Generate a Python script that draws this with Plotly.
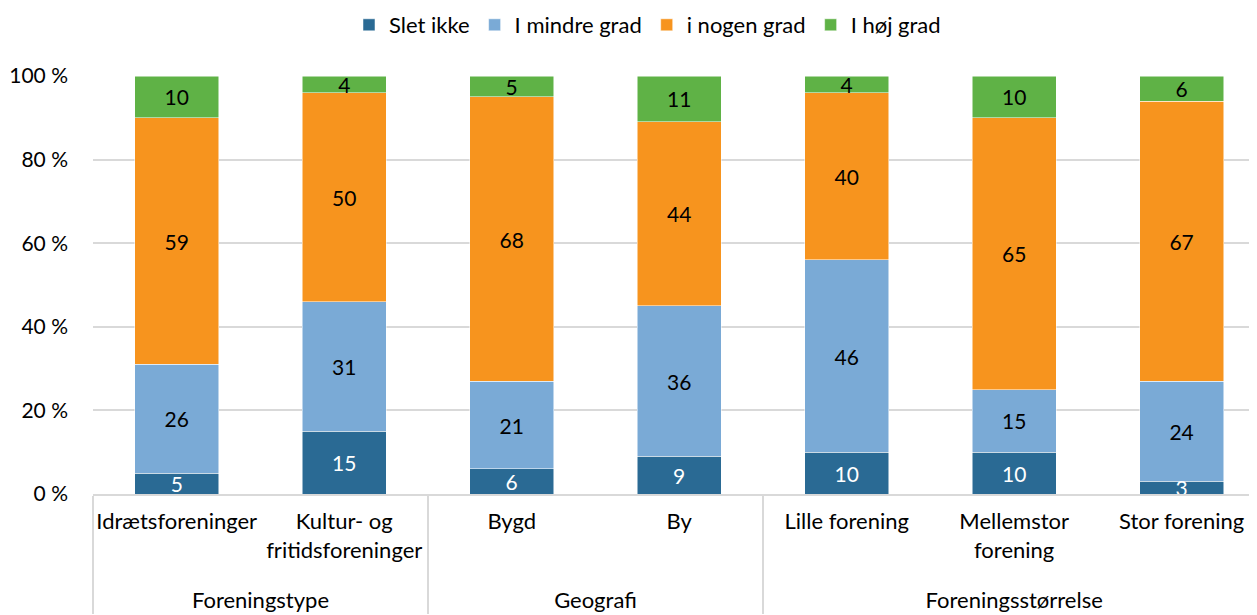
import plotly.graph_objects as go

groups = ["<br>Foreningstype", "<br>Foreningstype", "<br>Geografi", "<br>Geografi",
          "<br>Foreningsstørrelse", "<br>Foreningsstørrelse", "<br>Foreningsstørrelse"]
categories = ["Idrætsforeninger", "Kultur- og<br>fritidsforeninger", "Bygd", "By",
              "Lille forening", "Mellemstor<br>forening", "Stor forening"]

slet_ikke = [5, 15, 6, 9, 10, 10, 3]
i_mindre_grad = [26, 31, 21, 36, 46, 15, 24]
i_nogen_grad = [59, 50, 68, 44, 40, 65, 67]
i_hoej_grad = [10, 4, 5, 11, 4, 10, 6]

series = [
    ("Slet ikke", slet_ikke, "#2a6a94", "white"),
    ("I mindre grad", i_mindre_grad, "#7aaad6", "black"),
    ("i nogen grad", i_nogen_grad, "#f7941e", "black"),
    ("I høj grad", i_hoej_grad, "#5fb246", "black"),
]

font = "Lato, Open Sans, sans-serif"

fig = go.Figure()
for name, vals, color, txtcolor in series:
    fig.add_trace(go.Bar(
        x=[groups, categories], y=vals, name=name,
        marker=dict(color=color, line=dict(color="white", width=0.5)),
        text=vals, textposition="inside", insidetextanchor="middle",
        textangle=0, textfont=dict(color=txtcolor, size=21, family=font),
        constraintext="none", cliponaxis=False,
    ))

# page body has an 8px margin, so the figure is sized to fit inside the window
fig.update_layout(
    barmode="stack",
    bargap=0.5,
    width=1249, height=607,
    margin=dict(l=85, r=0, t=68, b=121, autoexpand=False),
    plot_bgcolor="white", paper_bgcolor="white",
    font=dict(family=font, size=21, color="black"),
    legend=dict(orientation="h", x=0.512, xanchor="center", xref="container",
                y=0.972, yanchor="middle", yref="container",
                font=dict(size=22), traceorder="normal", itemwidth=30),
)
fig.update_yaxes(range=[0, 100], tickvals=[0, 20, 40, 60, 80, 100],
                 ticktext=["0 %", "20 %", "40 %", "60 %", "80 %", "100 %"],
                 showgrid=True, gridcolor="#d9d9d9", gridwidth=1.5,
                 zeroline=False, ticks="", ticklabelstandoff=24)
fig.update_xaxes(range=[-0.5, 6.45],
                 showline=True, linecolor="#d9d9d9", linewidth=1.5,
                 showdividers=True, dividercolor="#d9d9d9", dividerwidth=1.5,
                 tickangle=0, tickfont=dict(size=22), ticklabelstandoff=7)

fig.write_html("out.html")
